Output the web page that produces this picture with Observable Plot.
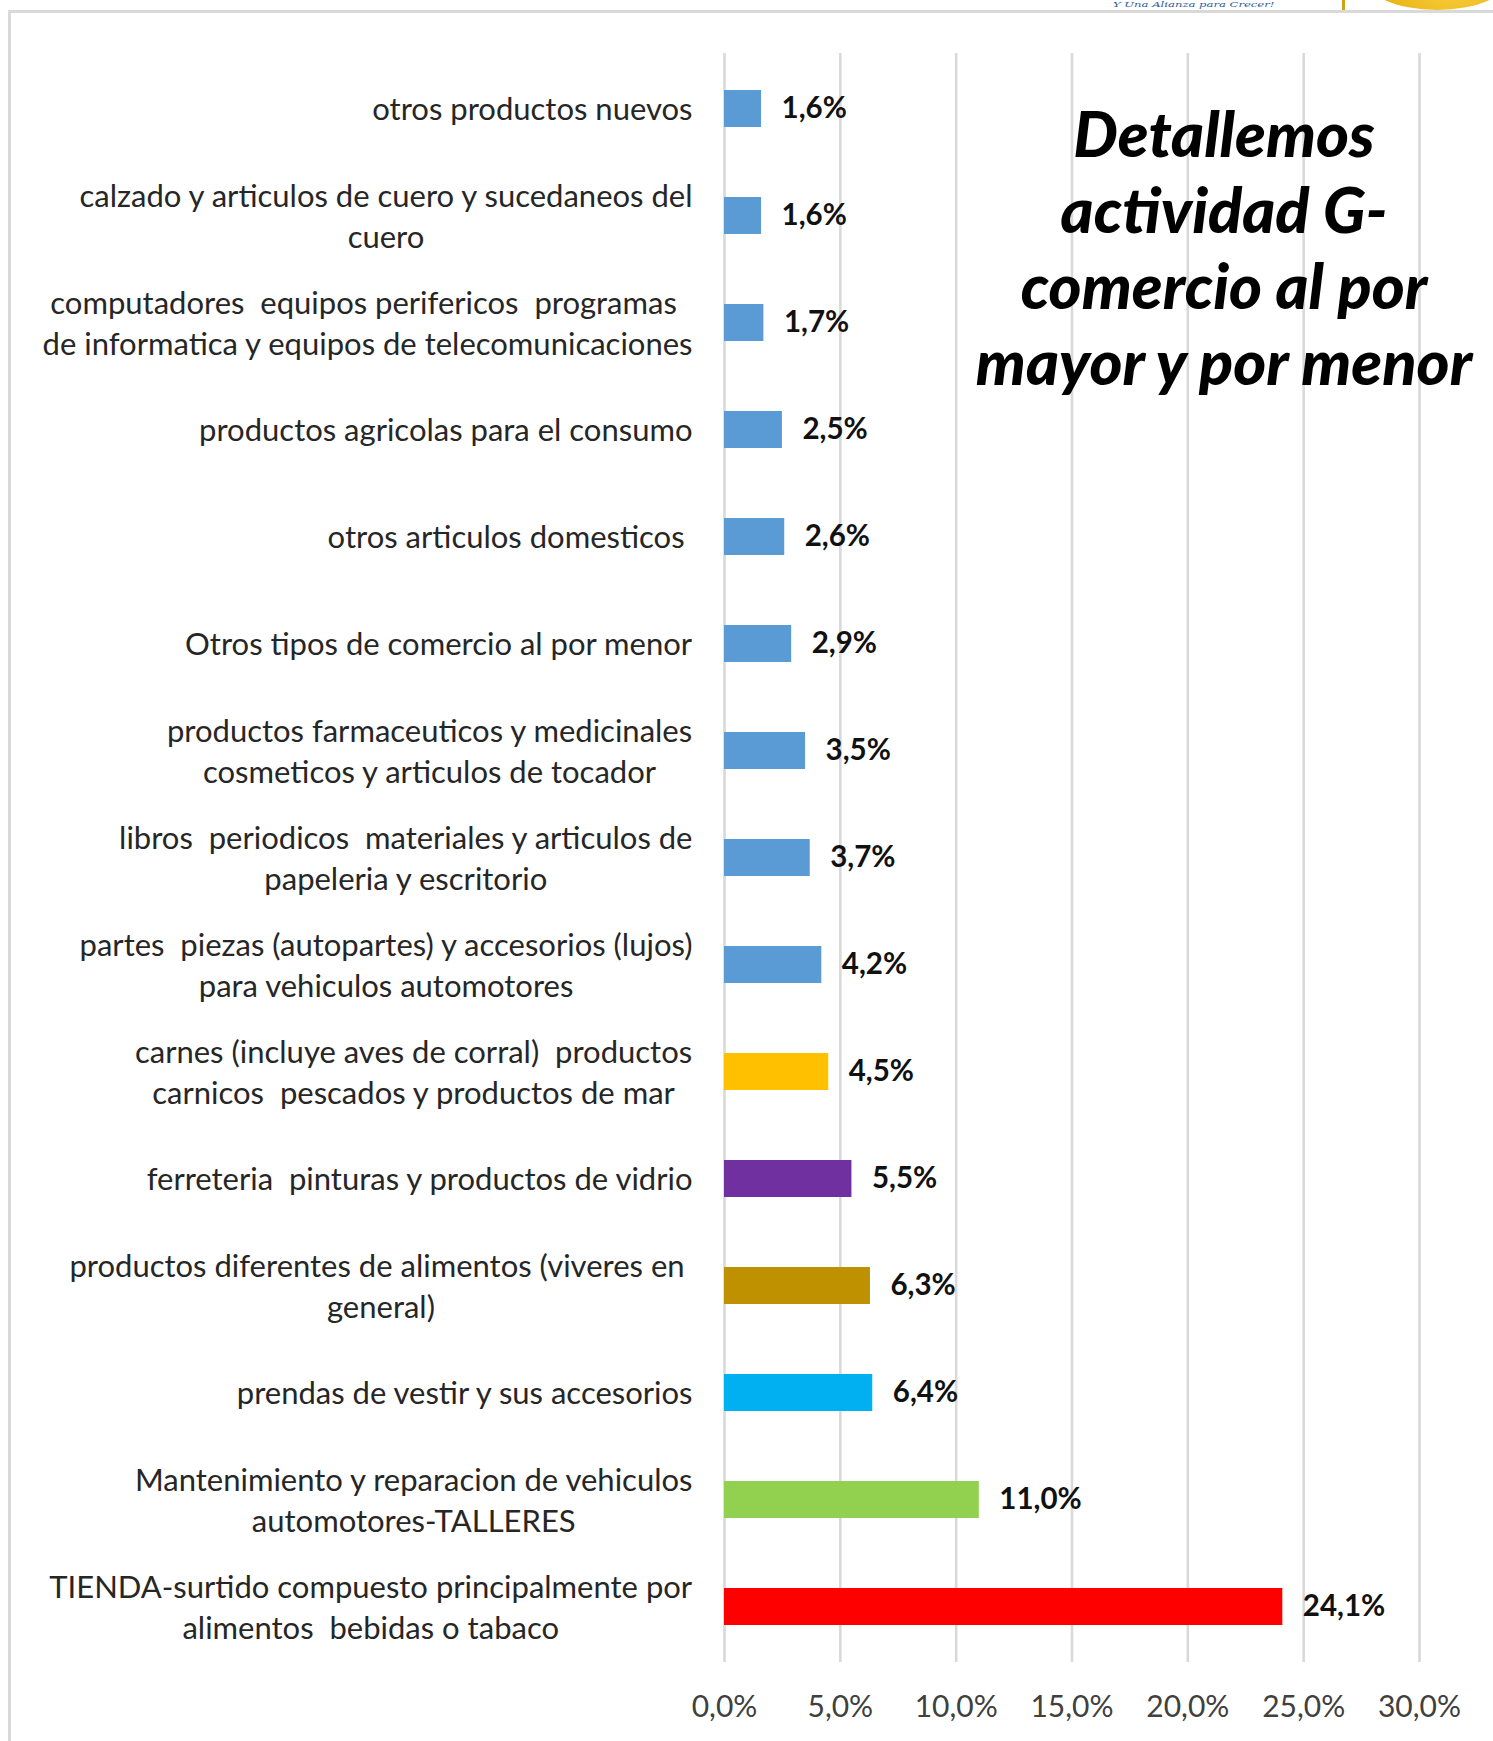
<!DOCTYPE html>
<html>
<head>
<meta charset="utf-8">
<script src="https://cdn.jsdelivr.net/npm/d3@7"></script>
<script src="https://cdn.jsdelivr.net/npm/@observablehq/plot@0.6"></script>
<style>
  body { margin: 0; background: #ffffff; }
  #wrap { position: relative; width: 1493px; height: 1741px; overflow: hidden; background: #fff; }
  #chart { position: absolute; left: 0; top: 0; }
  #chart svg text { white-space: pre; }
  .frame { position: absolute; left: 8px; top: 10px; width: 1600px; height: 1800px; border: 3px solid #d9d9d9; box-sizing: border-box; pointer-events: none; }
  .slogan { position: absolute; left: 1113px; top: 0px; font: italic 8px/9px "DejaVu Serif", serif; color: #2e5c9a; white-space: nowrap; transform-origin: 0 0; transform: scaleX(1.45); }
  .goldbar { position: absolute; left: 1342px; top: 0; width: 3px; height: 10px; background: #d4a017; }
  .logo { position: absolute; left: 1362px; top: -60px; width: 150px; height: 70px; border-radius: 50%; background: radial-gradient(circle at 60% 40%, #ffd54a, #e0a800); }
</style>
</head>
<body>
<div id="wrap">
  <div id="chart"></div>
  <div class="frame"></div>
  <div class="slogan">Y Una Alianza para Crecer!</div>
  <div class="goldbar"></div>
  <div class="logo"></div>
</div>
<script>
const categories = [
  "otros productos nuevos",
  "calzado y articulos de cuero y sucedaneos del\ncuero",
  "computadores  equipos perifericos  programas \nde informatica y equipos de telecomunicaciones",
  "productos agricolas para el consumo",
  "otros articulos domesticos ",
  "Otros tipos de comercio al por menor",
  "productos farmaceuticos y medicinales\ncosmeticos y articulos de tocador",
  "libros  periodicos  materiales y articulos de\npapeleria y escritorio",
  "partes  piezas (autopartes) y accesorios (lujos)\npara vehiculos automotores",
  "carnes (incluye aves de corral)  productos\ncarnicos  pescados y productos de mar",
  "ferreteria  pinturas y productos de vidrio",
  "productos diferentes de alimentos (viveres en \ngeneral)",
  "prendas de vestir y sus accesorios",
  "Mantenimiento y reparacion de vehiculos\nautomotores-TALLERES",
  "TIENDA-surtido compuesto principalmente por\nalimentos  bebidas o tabaco"
];
const values = [1.6, 1.6, 1.7, 2.5, 2.6, 2.9, 3.5, 3.7, 4.2, 4.5, 5.5, 6.3, 6.4, 11.0, 24.1];
const colors = ["#5B9BD5", "#5B9BD5", "#5B9BD5", "#5B9BD5", "#5B9BD5", "#5B9BD5", "#5B9BD5", "#5B9BD5", "#5B9BD5",
                "#FFC000", "#7030A0", "#BF9000", "#00B0F0", "#92D050", "#FF0000"];
const xTicks = [0, 5, 10, 15, 20, 25, 30];
const title = "Detallemos\nactividad G-\ncomercio al por\nmayor y por menor";

const data = categories.map((c, i) => ({category: c, value: values[i], color: colors[i]}));
const fmt = v => v.toFixed(1).replace(".", ",") + "%";

const chart = Plot.plot({
  width: 1493,
  height: 1741,
  marginLeft: 724,
  marginRight: 74,
  marginTop: 53,
  marginBottom: 79,
  style: {fontFamily: "Lato, 'Open Sans', sans-serif", background: "transparent"},
  x: {domain: [0, 30], ticks: xTicks, tickFormat: fmt, label: null},
  y: {domain: categories, paddingInner: 0.652, paddingOuter: 0.326, axis: null, label: null},
  marks: [
    Plot.ruleX(xTicks, {stroke: "#d9d9d9", strokeWidth: 2.6}),
    Plot.axisX({ticks: xTicks, tickFormat: fmt, tickSize: 0, tickPadding: 33, fontSize: 30, color: "#404040", label: null}),
    Plot.barX(data, {x: "value", y: "category", fill: "color"}),
    Plot.text(data, {x: "value", y: "category", text: d => fmt(d.value), textAnchor: "start", dx: 20,
                     fontSize: 29.5, fontWeight: "bold", fill: "#111111"}),
    Plot.text(data, {x: () => 0, y: "category", text: "category", textAnchor: "end", dx: -32, dy: -2,
                     fontSize: 31, lineHeight: 1.32, fill: "#262626", ariaDescription: "cat-labels"}),
    Plot.text([title], {frameAnchor: "top", text: d => d, dx: 152, dy: 193, lineAnchor: "middle",
                        fontSize: 63, lineHeight: 1.21, fontWeight: 900, fontStyle: "italic",
                        fontFamily: "Lato, sans-serif", fill: "#000000"})
  ]
});
document.getElementById("chart").appendChild(chart);

// center multi-line category labels about the middle of their widest line (right edge stays fixed)
const catTexts = chart.querySelectorAll('[aria-description="cat-labels"] text');
catTexts.forEach(t => {
  const w = t.getBBox().width;
  t.setAttribute("text-anchor", "middle");
  t.style.textAnchor = "middle";
  const tr = t.getAttribute("transform") || "";
  t.setAttribute("transform", tr + ` translate(${-w / 2},0)`);
});
</script>
</body>
</html>
